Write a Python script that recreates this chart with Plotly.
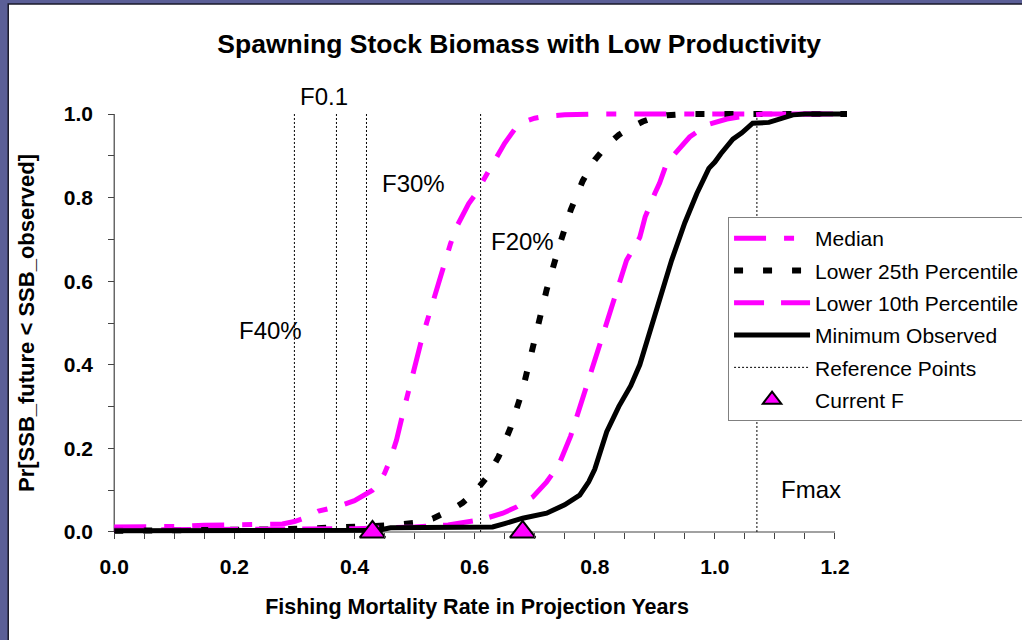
import plotly.graph_objects as go

# ---------------- data ----------------
median_F = [0.00, 0.05, 0.10, 0.15, 0.20, 0.25, 0.28, 0.30, 0.32, 0.34, 0.37, 0.40, 0.42, 0.43,
            0.44, 0.45, 0.46, 0.47, 0.48, 0.49, 0.50, 0.51, 0.52, 0.53, 0.54, 0.55, 0.56, 0.57,
            0.58, 0.59, 0.60, 0.61, 0.62, 0.63, 0.64, 0.65, 0.66, 0.67, 0.68, 0.70, 0.72, 0.75,
            0.80, 0.90, 1.00, 1.10, 1.22]
median_P = [0.012, 0.012, 0.013, 0.016, 0.017, 0.017, 0.019, 0.025, 0.035, 0.050, 0.060, 0.075,
            0.090, 0.100, 0.115, 0.140, 0.175, 0.220, 0.280, 0.340, 0.400, 0.450, 0.500, 0.550,
            0.600, 0.650, 0.690, 0.730, 0.760, 0.785, 0.805, 0.830, 0.860, 0.885, 0.910, 0.930,
            0.950, 0.970, 0.980, 0.990, 0.995, 0.998, 1.000, 1.000, 1.000, 1.000, 1.000]

p25_F = [0.00, 0.10, 0.20, 0.26, 0.32, 0.36, 0.42, 0.46, 0.50, 0.53, 0.56, 0.58, 0.60, 0.62,
         0.64, 0.66, 0.68, 0.70, 0.72, 0.74, 0.76, 0.78, 0.80, 0.82, 0.84, 0.86, 0.88, 0.90,
         0.92, 0.95, 1.22]
p25_P = [0.003, 0.003, 0.004, 0.006, 0.008, 0.010, 0.013, 0.016, 0.022, 0.032, 0.052, 0.070,
         0.095, 0.130, 0.180, 0.250, 0.340, 0.460, 0.580, 0.680, 0.770, 0.840, 0.890, 0.925,
         0.950, 0.968, 0.982, 0.992, 0.997, 1.000, 1.000]

p10_F = [0.00, 0.20, 0.40, 0.50, 0.556, 0.61, 0.647, 0.67, 0.697, 0.72, 0.74, 0.76, 0.78, 0.80,
         0.82, 0.84, 0.853, 0.875, 0.884, 0.90, 0.908, 0.92, 0.94, 0.958, 0.987, 1.02, 1.04,
         1.08, 1.22]
p10_P = [0.005, 0.006, 0.008, 0.012, 0.017, 0.029, 0.045, 0.060, 0.084, 0.120, 0.160, 0.230,
         0.320, 0.410, 0.500, 0.590, 0.650, 0.705, 0.754, 0.810, 0.835, 0.883, 0.915, 0.945,
         0.974, 0.988, 0.993, 1.000, 1.000]

min_F = [0.00, 0.20, 0.40, 0.44, 0.46, 0.55, 0.63, 0.65, 0.68, 0.72, 0.75, 0.775, 0.79, 0.80,
         0.81, 0.82, 0.84, 0.86, 0.875, 0.89, 0.90, 0.917, 0.928, 0.95, 0.97, 0.99, 1.00, 1.01,
         1.03, 1.045, 1.063, 1.09, 1.11, 1.13, 1.15, 1.22]
min_P = [0.003, 0.003, 0.003, 0.004, 0.010, 0.011, 0.012, 0.020, 0.033, 0.045, 0.065, 0.088,
         0.120, 0.150, 0.200, 0.240, 0.300, 0.350, 0.400, 0.470, 0.520, 0.600, 0.650, 0.740,
         0.810, 0.870, 0.885, 0.905, 0.940, 0.955, 0.978, 0.980, 0.990, 0.998, 1.000, 1.000]

ref_F = [0.30, 0.37, 0.42, 0.61, 1.07]
ref_names = ["F40%", "F0.1", "F30%", "F20%", "Fmax"]
current_F = [0.43, 0.68]

x_ticks = [0.0, 0.2, 0.4, 0.6, 0.8, 1.0, 1.2]
y_ticks = [0.0, 0.2, 0.4, 0.6, 0.8, 1.0]

FONT = "Liberation Sans, Arial, sans-serif"
MAG = "#FF00FF"

# ---------------- traces ----------------
fig = go.Figure()

ref_x, ref_y = [], []
for f in ref_F:
    ref_x += [f, f, None]
    ref_y += [0, 1, None]
fig.add_trace(go.Scatter(x=ref_x, y=ref_y, mode="lines", name="Reference Points",
                         line=dict(color="black", width=1, dash="2px,2px"),
                         legendrank=5, legendgroup="g5"))

fig.add_trace(go.Scatter(x=median_F, y=median_P, mode="lines", name="Median",
                         line=dict(color=MAG, width=5, dash="32px,18px,10px,18px"),
                         legendrank=1, legendgroup="g1"))
fig.add_trace(go.Scatter(x=p25_F, y=p25_P, mode="lines", name="Lower 25th Percentile",
                         line=dict(color="black", width=6, dash="9px,20px"),
                         legendrank=2, legendgroup="g2"))
fig.add_trace(go.Scatter(x=p10_F, y=p10_P, mode="lines", name="Lower 10th Percentile",
                         line=dict(color=MAG, width=5, dash="30px,17px"),
                         legendrank=3, legendgroup="g3"))
fig.add_trace(go.Scatter(x=min_F, y=min_P, mode="lines", name="Minimum Observed",
                         line=dict(color="black", width=5),
                         legendrank=4, legendgroup="g4"))
fig.add_trace(go.Scatter(x=current_F, y=[0] * len(current_F), mode="markers", name="Current F",
                         marker=dict(symbol="triangle-up", size=22, color=MAG,
                                     line=dict(color="black", width=2)),
                         cliponaxis=False, legendrank=6, legendgroup="g6"))

# ---------------- layout geometry ----------------
XMIN, XMAX = -0.012, 1.22
YMIN, YMAX = -0.012, 1.012
PX_PER_X = 600.8
PX_PER_Y = 418.0
x0_px, y0_px = 114.0, 532.0
left = x0_px + XMIN * PX_PER_X
right = x0_px + XMAX * PX_PER_X
top = y0_px - YMAX * PX_PER_Y
bottom = y0_px - YMIN * PX_PER_Y
W, H = 1022, 640


def paper_y(py):
    return (bottom - py) / (bottom - top)


def paper_x(px):
    return (px - left) / (right - left)


# reference point labels (x in data units, y in plot-area fraction)
label_pos = {"F40%": (0.26, paper_y(331)), "F0.1": (0.349, paper_y(96)),
             "F30%": (0.4975, paper_y(183)), "F20%": (0.68, paper_y(241)),
             "Fmax": (1.16, paper_y(490))}
for name in ref_names:
    lx, ly = label_pos[name]
    fig.add_annotation(x=lx, y=ly, xref="x", yref="paper", text=name, showarrow=False,
                       font=dict(family=FONT, size=24, color="black"),
                       xanchor="center", yanchor="middle")

shapes = [
    # white slide panel
    dict(type="rect", xref="paper", yref="paper",
         x0=paper_x(8), x1=paper_x(W + 10), y0=paper_y(H + 10), y1=paper_y(4),
         fillcolor="white", line=dict(color="#1a1a2a", width=1.5), layer="below"),
    # axis lines
    dict(type="line", xref="x", yref="y", x0=0, x1=1.2, y0=0, y1=0,
         line=dict(color="#444444", width=1.2), layer="below"),
    dict(type="line", xref="x", yref="y", x0=0, x1=0, y0=0, y1=1.0,
         line=dict(color="#444444", width=1.2), layer="below"),
]

fig.update_layout(
    width=W, height=H,
    paper_bgcolor="#5b5f97",
    plot_bgcolor="rgba(0,0,0,0)",
    margin=dict(l=left, r=W - right, t=top, b=H - bottom, autoexpand=False),
    font=dict(family=FONT, color="black"),
    title=dict(text="Spawning Stock Biomass with Low Productivity",
               font=dict(family=FONT, size=26.5, weight="bold", color="black"),
               x=0.508, xanchor="center", y=1 - 44 / H, yanchor="middle"),
    shapes=shapes,
    showlegend=True,
    legend=dict(x=paper_x(728), y=paper_y(217),
                xanchor="left", yanchor="top",
                bgcolor="white", bordercolor="#808080", borderwidth=1,
                font=dict(family=FONT, size=21, color="black"),
                itemwidth=76, tracegroupgap=2),
)

fig.update_xaxes(
    range=[XMIN, XMAX], anchor="free", position=(0 - YMIN) / (YMAX - YMIN),
    showline=False, showgrid=False, zeroline=False,
    tickvals=x_ticks, ticktext=[f"{v:.1f}" for v in x_ticks],
    ticks="outside", ticklen=6, tickwidth=1, tickcolor="#444444",
    minor=dict(tickvals=[round(0.05 * i, 2) for i in range(25)], ticks="outside",
               ticklen=6, tickcolor="#444444"),
    tickfont=dict(family=FONT, size=21, weight="bold", color="black"),
    ticklabelstandoff=10,
    title=dict(text="Fishing Mortality Rate in Projection Years",
               font=dict(family=FONT, size=21.5, weight="bold", color="black"),
               standoff=21),
)
fig.update_yaxes(
    range=[YMIN, YMAX], anchor="free", position=(0 - XMIN) / (XMAX - XMIN),
    showline=False, showgrid=False, zeroline=False,
    tickvals=y_ticks, ticktext=[f"{v:.1f}" for v in y_ticks],
    ticks="outside", ticklen=6, tickwidth=1, tickcolor="#444444",
    minor=dict(tickvals=[round(0.1 * i, 1) for i in range(11)], ticks="outside",
               ticklen=6, tickcolor="#444444"),
    tickfont=dict(family=FONT, size=21, weight="bold", color="black"),
    ticklabelstandoff=11,
    title=dict(text="Pr[SSB_future < SSB_observed]",
               font=dict(family=FONT, size=22, weight="bold", color="black"),
               standoff=22),
)

fig.write_html("out.html", config=dict(displayModeBar=False),
               post_script="document.body.style.margin='0';")
